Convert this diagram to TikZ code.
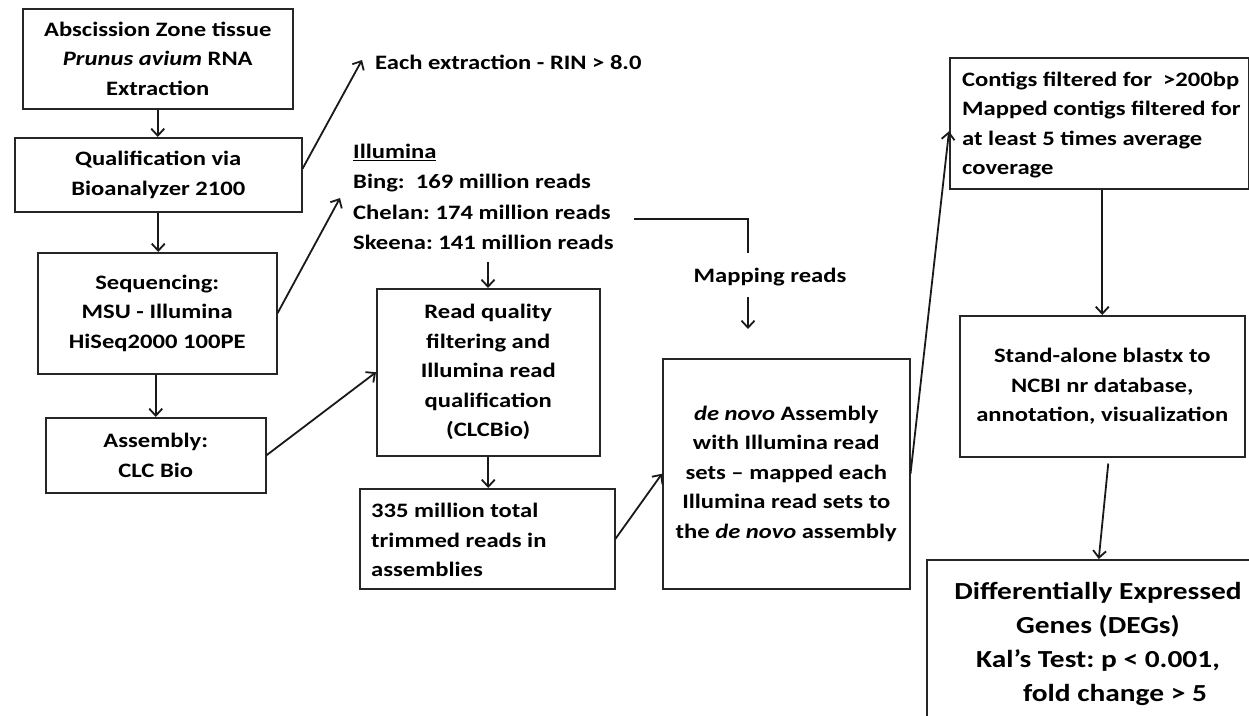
\documentclass[tikz,border=0pt]{standalone}
\usepackage{fontspec}
\setmainfont{Carlito}[FakeStretch=1.2]
\usetikzlibrary{arrows.meta}
\frenchspacing
\begin{document}
\begin{tikzpicture}[x=1pt,y=-1pt,
  every node/.style={font=\fontsize{20.5}{29.5}\selectfont\bfseries},
  box/.style={draw=black!85, line width=1.5pt, inner sep=0pt, align=center, anchor=north west},
  plain/.style={inner sep=0pt},
  conn/.style={line width=1.8pt, black!90},
  arr/.style={conn, -{Straight Barb[length=7pt,width=13pt]}}]
\useasboundingbox (0,0) rectangle (1249,715);
\clip (0,0) rectangle (1249,715);
\fill[white] (0,0) rectangle (1249,715);

% boxes
\node[box, minimum width=270pt, minimum height=100pt] (abs) at (22,8)
  {Abscission Zone tissue\\ \textit{Prunus avium} RNA\\ Extraction};
\node[box, minimum width=287pt, minimum height=74pt] (qual) at (14,137)
  {Qualification via\\ Bioanalyzer 2100};
\node[box, minimum width=239pt, minimum height=121pt] (seq) at (37,252)
  {Sequencing:\\ MSU - Illumina\\ HiSeq2000 100PE};
\node[box, minimum width=220pt, minimum height=75pt] (asm) at (45,417)
  {Assembly:\\ CLC Bio};
\node[box, minimum width=223pt, minimum height=167pt] (read) at (376,288)
  {Read quality\\ filtering and\\ Illumina read\\ qualification\\ (CLCBio)};
\node[box, minimum width=255pt, minimum height=100pt] (trim) at (359,488) {};
\node[plain, anchor=west, align=left] (trimtext) at (371,540)
  {335 million total\\ trimmed reads in\\ assemblies};
\node[box, minimum width=247pt, minimum height=230pt] (denovo) at (662,358)
  {\textit{de novo} Assembly\\ with Illumina read\\ sets -- mapped each\\ Illumina read sets to\\ the \textit{de novo} assembly};
\node[box, minimum width=299pt, minimum height=131pt] (contigs) at (949,57) {};
\node[plain, anchor=west, align=left] (contigstext) at (962,125)
  {Contigs filtered for\ \ >200bp\\ Mapped contigs filtered for\\ at least 5 times average\\ coverage};
\node[box, minimum width=285pt, minimum height=141pt] (stand) at (959,315)
  {Stand-alone blastx to\\ NCBI nr database,\\ annotation, visualization};
\node[box, minimum width=336pt, minimum height=170pt] (deg) at (926,559) {};
\node[plain, align=center, font=\fontsize{24.5}{34}\selectfont\bfseries] (degtext) at (1098,644)
  {Differentially Expressed\\ Genes (DEGs)\\ Kal's Test: p < 0.001,\\ \hspace*{34pt}fold change > 5};

% free texts
\node[plain, anchor=west] (each) at (375,62) {Each extraction - RIN > 8.0};
\node[plain, anchor=west, align=left, font=\fontsize{20.5}{30.3}\selectfont\bfseries] (illum) at (353,197)
  {\underline{Illumina}\\ Bing:\ \ 169 million reads\\ Chelan: 174 million reads\\ Skeena: 141 million reads};
\node[plain] (map) at (770,277) {Mapping reads};

% coordinates for free ends
\coordinate (eachIn) at (362,60);
\coordinate (illumIn) at (340,198);
\coordinate (illumOut) at (488,262);
\coordinate (elbowStart) at (634,219);
\coordinate (elbowEnd) at (748,253);
\coordinate (mapOut) at (748,297);
\coordinate (mapIn) at (748,329);

% connectors
\draw[arr] (abs.south) -- (abs.south |- qual.north);
\draw[arr] (qual.south) -- (qual.south |- seq.north);
\draw[arr] (seq.south -| asm.north) -- (asm.north);
\draw[arr] ([yshift=6pt]qual.east) -- (eachIn);
\draw[arr] (seq.east) -- (illumIn);
\draw[arr] (illumOut) -- (illumOut |- read.north);
\draw[arr] (asm.east) -- (read.west);
\draw[arr] (read.south) -- (read.south |- trim.north);
\draw[arr] (trim.east) -- (denovo.west);
\draw[conn] (elbowStart) -| (elbowEnd);
\draw[arr] (mapOut) -- (mapIn);
\draw[arr] (denovo.east) -- ([yshift=-8pt]contigs.west);
\draw[arr] (stand.north |- contigs.south) -- (stand.north);
\draw[arr] ([xshift=6pt,yshift=-6pt]stand.south) -- ([xshift=4pt]deg.north);
\end{tikzpicture}
\end{document}
